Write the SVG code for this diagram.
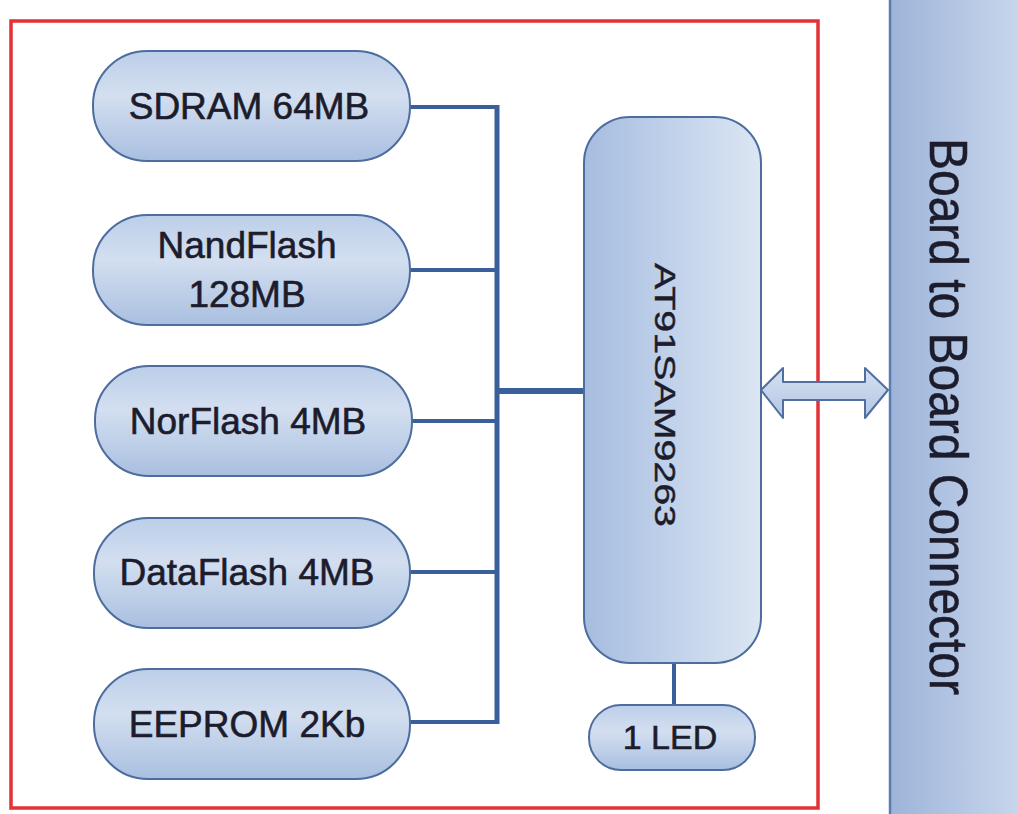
<svg xmlns="http://www.w3.org/2000/svg" width="1017" height="814" viewBox="0 0 1017 814">
<defs>
<linearGradient id="gPill" x1="0" y1="0" x2="0" y2="1">
<stop offset="0" stop-color="#bccee9"/>
<stop offset="0.4" stop-color="#d3dff0"/>
<stop offset="1" stop-color="#a9bfe0"/>
</linearGradient>
<linearGradient id="gCpu" x1="0" y1="0" x2="1" y2="0">
<stop offset="0" stop-color="#a6bde0"/>
<stop offset="1" stop-color="#dce6f3"/>
</linearGradient>
<linearGradient id="gBoard" x1="0" y1="0" x2="1" y2="0">
<stop offset="0" stop-color="#9db4d9"/>
<stop offset="1" stop-color="#c8d6ec"/>
</linearGradient>
<linearGradient id="gArrow" x1="0" y1="0" x2="0" y2="1">
<stop offset="0" stop-color="#d6e1f1"/>
<stop offset="1" stop-color="#b2c6e4"/>
</linearGradient>
</defs>
<style>
.pill{fill:url(#gPill);stroke:#4d6d9e;stroke-width:2}
.lbl{font-family:"Liberation Sans",Arial,sans-serif;font-size:37px;fill:#1c1c2c;stroke:#1c1c2c;stroke-width:0.6;text-anchor:middle}
.vlbl{font-family:"Liberation Sans",Arial,sans-serif;fill:#1c1c2c;stroke:#1c1c2c;stroke-width:0.5}
.wire{stroke:#3a5f9a;fill:none}
</style>
<rect width="1017" height="814" fill="#ffffff"/>

<g id="board-connector">
<rect x="890" y="-2" width="130" height="818" fill="url(#gBoard)"/>
<line x1="890" y1="0" x2="890" y2="814" stroke="#5b7db0" stroke-width="2.5"/>
<text class="vlbl" transform="translate(930,138) rotate(90) scale(1,1.1)" font-size="48" textLength="557" lengthAdjust="spacingAndGlyphs">Board to Board Connector</text>
</g>

<g id="frame">
<rect x="11" y="21" width="807" height="787" fill="none" stroke="#e23236" stroke-width="3.5"/>
</g>

<g id="connectors">
<line class="wire" x1="497" y1="105" x2="497" y2="724" stroke-width="5"/>
<line class="wire" x1="410" y1="107" x2="499" y2="107" stroke-width="4"/>
<line class="wire" x1="410" y1="270" x2="499" y2="270" stroke-width="4"/>
<line class="wire" x1="412" y1="421" x2="499" y2="421" stroke-width="4"/>
<line class="wire" x1="410" y1="572" x2="499" y2="572" stroke-width="4"/>
<line class="wire" x1="410" y1="722" x2="499" y2="722" stroke-width="4"/>
<line class="wire" x1="495" y1="391" x2="586" y2="391" stroke-width="6"/>
<line class="wire" x1="674" y1="662" x2="674" y2="706" stroke-width="4"/>
<path id="bus-arrow" d="M761,390 L783,368 L783,382 L865,382 L865,368 L888,390 L865,418 L865,400 L783,400 L783,418 Z" fill="url(#gArrow)" stroke="#4f6fa0" stroke-width="2" stroke-linejoin="round"/>
</g>

<g id="sdram">
<rect class="pill" x="93" y="51" width="317" height="110" rx="54" ry="54"/>
<text class="lbl" x="249" y="119">SDRAM 64MB</text>
</g>
<g id="nandflash">
<rect class="pill" x="93" y="215" width="317" height="110" rx="54" ry="54"/>
<text class="lbl" x="247" y="258">NandFlash</text>
<text class="lbl" x="247" y="307">128MB</text>
</g>
<g id="norflash">
<rect class="pill" x="95" y="366" width="317" height="110" rx="54" ry="54"/>
<text class="lbl" x="248" y="434">NorFlash 4MB</text>
</g>
<g id="dataflash">
<rect class="pill" x="94" y="518" width="316" height="110" rx="54" ry="54"/>
<text class="lbl" x="247" y="585">DataFlash 4MB</text>
</g>
<g id="eeprom">
<rect class="pill" x="94" y="669" width="316" height="110" rx="54" ry="54"/>
<text class="lbl" x="247" y="737">EEPROM 2Kb</text>
</g>

<g id="at91sam9263">
<rect x="584" y="117" width="177" height="546" rx="46" ry="46" fill="url(#gCpu)" stroke="#4d6d9e" stroke-width="2"/>
<text class="vlbl" transform="translate(655,263) rotate(90) scale(1,0.85)" font-size="34" textLength="264" lengthAdjust="spacingAndGlyphs">AT91SAM9263</text>
</g>

<g id="led">
<rect class="pill" x="589" y="705" width="166" height="65" rx="32" ry="32"/>
<text class="lbl" x="670" y="749" style="font-size:34px">1 LED</text>
</g>
</svg>
